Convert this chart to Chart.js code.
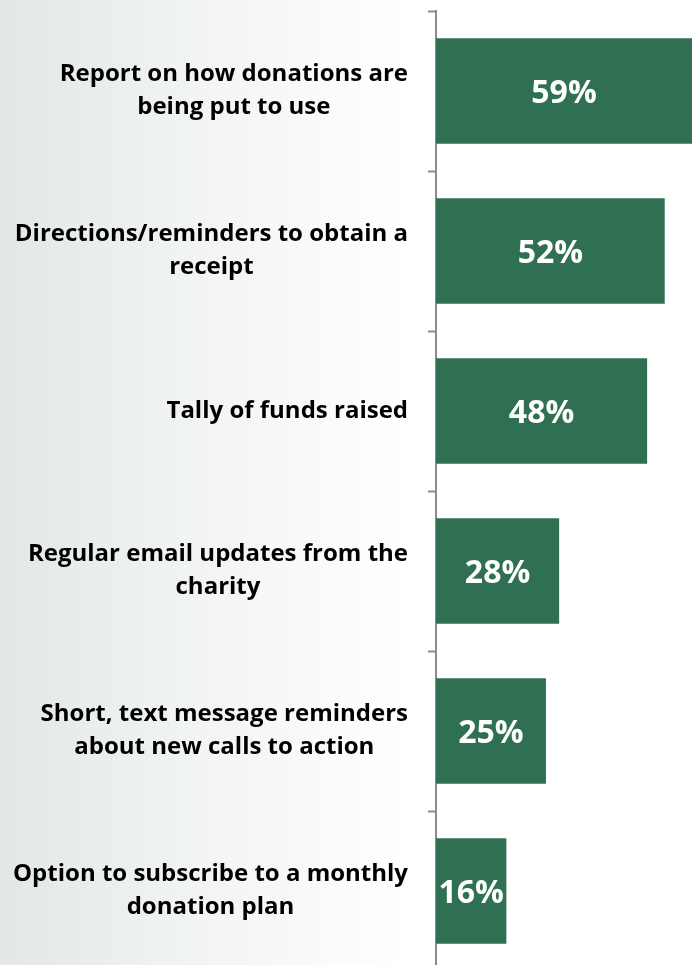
<!DOCTYPE html>
<html>
<head>
<meta charset="utf-8">
<script src="https://cdn.jsdelivr.net/npm/chart.js@4.4.0/dist/chart.umd.min.js"></script>
<style>
  html, body {
    margin: 0;
    padding: 0;
    overflow: hidden;
  }
  body {
    width: 692px;
    height: 965px;
    background: linear-gradient(to right, #e3e8e5 0%, #f2f5f3 30%, #ffffff 60%);
  }
  #wrap {
    position: relative;
    width: 692px;
    height: 976px;
  }
</style>
</head>
<body>
<div id="wrap"><canvas id="myChart"></canvas></div>
<script>
// datos del grafico
const categorias = [
  ["Report on how donations are", "being put to use"],
  ["Directions/reminders to obtain a", "receipt"],
  ["Tally of funds raised"],
  ["Regular email updates from the", "charity"],
  ["Short, text message reminders", "about new calls to action"],
  ["Option to subscribe to a monthly", "donation plan"],
];
const porcentajes = [59, 52, 48, 28, 25, 16];

// escribe el % dentro de cada barra
const etiquetasBarras = {
  id: "etiquetasBarras",
  afterDatasetsDraw(chart) {
    const { ctx, chartArea } = chart;
    const meta = chart.getDatasetMeta(0);
    ctx.save();
    ctx.fillStyle = "#ffffff";
    ctx.font = "bold 32px 'Open Sans'";
    ctx.textAlign = "center";
    ctx.textBaseline = "middle";
    meta.data.forEach((bar, i) => {
      const fin = Math.min(bar.x, chartArea.right);
      const centro = (bar.base + fin) / 2;
      ctx.fillText(porcentajes[i] + "%", centro, bar.y + 3);
    });
    ctx.restore();
  },
};

// etiquetas del eje y: bloque alineado a la derecha, lineas centradas entre si
const etiquetasEje = {
  id: "etiquetasEje",
  afterDraw(chart) {
    const { ctx } = chart;
    const escala = chart.scales.y;
    const derecha = escala.right - 8 - 20;
    const altoLinea = 33;
    ctx.save();
    ctx.fillStyle = "#000000";
    ctx.font = "bold 24px 'Open Sans'";
    ctx.textAlign = "center";
    ctx.textBaseline = "middle";
    categorias.forEach((lineas, i) => {
      const ancho = Math.max(...lineas.map((l) => ctx.measureText(l).width));
      const cx = derecha - ancho / 2;
      const y = escala.getPixelForValue(i);
      const y0 = y - ((lineas.length - 1) * altoLinea) / 2;
      lineas.forEach((l, j) => {
        ctx.fillText(l, cx, y0 + j * altoLinea);
      });
    });
    ctx.restore();
  },
};

const ctx = document.getElementById("myChart");
const myChart = new Chart(ctx, {
  type: "bar",
  data: {
    labels: categorias,
    datasets: [
      {
        data: porcentajes,
        backgroundColor: "#2f7052",
        barPercentage: 0.66,
        categoryPercentage: 1,
      },
    ],
  },
  plugins: [etiquetasBarras, etiquetasEje],
  options: {
    indexAxis: "y",
    responsive: true,
    maintainAspectRatio: false,
    animation: false,
    layout: {
      padding: { top: 11, bottom: 5, right: 0, left: 0 },
    },
    scales: {
      x: {
        display: false,
        min: 0,
        max: 58.2,
      },
      y: {
        afterFit: (scale) => {
          // ancho fijo del eje y sin margen extra arriba/abajo
          scale.width = 436;
          scale.paddingTop = 0;
          scale.paddingBottom = 0;
        },
        grid: {
          offset: true,
          drawOnChartArea: false,
          drawTicks: true,
          tickLength: 8,
          tickWidth: 2,
          tickColor: "#8c8c8c",
        },
        border: {
          display: true,
          color: "#8c8c8c",
          width: 2,
        },
        ticks: {
          display: false,
        },
      },
    },
    plugins: {
      legend: { display: false },
      tooltip: { enabled: false },
    },
  },
});
</script>
</body>
</html>
